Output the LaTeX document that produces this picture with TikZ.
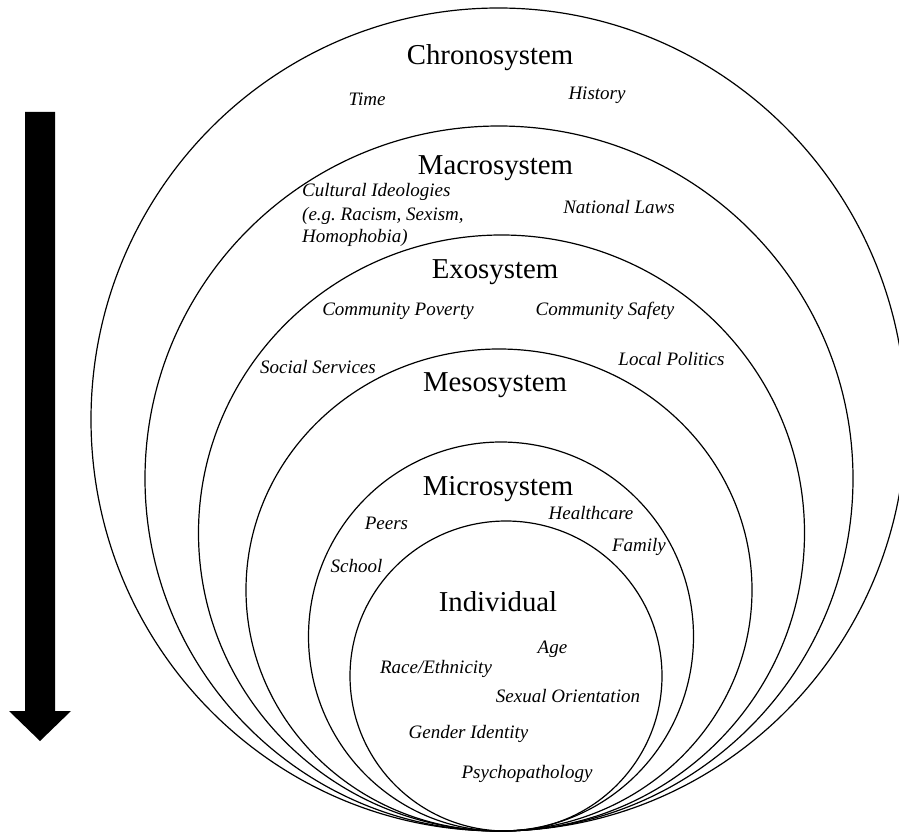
\documentclass[tikz,border=0pt]{standalone}
\usepackage{fontspec}
\setmainfont{Liberation Serif}
\begin{document}
\begin{tikzpicture}[x=1pt,y=-1pt,
  ring/.style={draw=black,line width=1.2pt},
  title/.style={inner sep=0pt,anchor=base,font=\fontsize{28.8}{34}\selectfont},
  item/.style={inner sep=0pt,anchor=base,font=\fontsize{19}{23}\selectfont\itshape},
  itemw/.style={inner sep=0pt,anchor=base west,font=\fontsize{19}{23}\selectfont\itshape}]
\useasboundingbox (0,0) rectangle (899,834);
\clip (0,0) rectangle (899,834);
\fill[white] (0,0) rectangle (899,834);
% rings
\draw[ring] (498.5,419.5) ellipse [x radius=407.5, y radius=411.5];
\draw[ring] (499,478.5) ellipse [x radius=354, y radius=352.5];
\draw[ring] (501.5,533) ellipse [x radius=303, y radius=298];
\draw[ring] (499,590) ellipse [x radius=253, y radius=241];
\draw[ring] (501,636.5) ellipse [x radius=192.5, y radius=194.5];
\draw[ring] (506,676) ellipse [x radius=156, y radius=155];
% arrow
\fill[black] (25,112) -- (55,112) -- (55,711) -- (71,711) -- (40,741) -- (9,711) -- (25,711) -- cycle;
% titles
\node[title] (chrono) at (490,65) {Chronosystem};
\node[title] (macro) at (495.5,175) {Macrosystem};
\node[title] (exo) at (495,279) {Exosystem};
\node[title] (meso) at (495,391) {Mesosystem};
\node[title] (micro) at (498,495) {Microsystem};
\node[title] (indiv) at (498,611) {Individual};
% chrono items
\node[item] (time) at (367,106) {Time};
\node[item] (history) at (597,100) {History};
% macro items
\node[itemw] (cult1) at (302,197) {Cultural Ideologies};
\node[itemw] (cult2) at (302,221) {(e.g.\ Racism, Sexism,};
\node[itemw] (cult3) at (302,243) {Homophobia)};
\node[item] (laws) at (619,214) {National Laws};
% exo items
\node[item] (poverty) at (398,315) {Community Poverty};
\node[item] (safety) at (605,315) {Community Safety};
\node[item] (social) at (318,373) {Social Services};
\node[item] (politics) at (671.5,365) {Local Politics};
% micro items
\node[item] (peers) at (386.5,529) {Peers};
\node[item] (health) at (591,519) {Healthcare};
\node[item] (family) at (639,551) {Family};
\node[item] (school) at (356.5,572) {School};
% individual items
\node[item] (age) at (552.5,653) {Age};
\node[item] (race) at (436,673) {Race/Ethnicity};
\node[item] (sexual) at (568,702) {Sexual Orientation};
\node[item] (gender) at (468.5,738) {Gender Identity};
\node[item] (psycho) at (527,778) {Psychopathology};
\end{tikzpicture}
\end{document}
